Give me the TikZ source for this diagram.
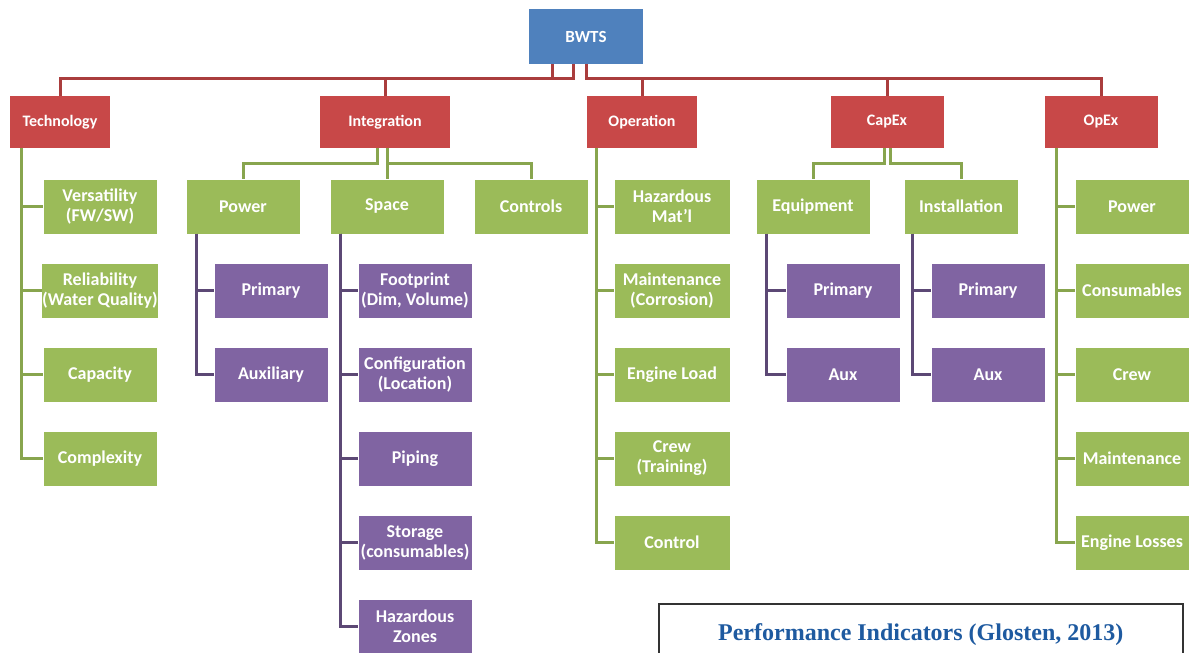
\documentclass[tikz,border=0pt]{standalone}
\usepackage{fontspec}
\setmainfont{Carlito}
\newfontfamily\capfont{Liberation Serif}
\usepackage{xcolor}
\usepackage{tikz}
\usetikzlibrary{positioning,calc}
\definecolor{bwtsblue}{RGB}{79,129,189}
\definecolor{catred}{RGB}{200,72,72}
\definecolor{subgreen}{RGB}{155,187,89}
\definecolor{leafpurple}{RGB}{128,100,162}
\definecolor{capblue}{RGB}{30,90,160}

\begin{document}
\begin{tikzpicture}[
  x=1pt, y=-1pt,
  every node/.style={inner xsep=0pt, inner ysep=2pt, text=white, align=center},
  topbox/.style={fill=bwtsblue, minimum width=114, minimum height=55, font=\bfseries\fontsize{17}{20}\selectfont},
  redbox/.style={fill=catred, minimum height=52, font=\bfseries\fontsize{16}{19}\selectfont},
  greenbox/.style={fill=subgreen, minimum width=113, minimum height=54, font=\bfseries\fontsize{18}{20}\selectfont},
  purplebox/.style={fill=leafpurple, minimum width=113, minimum height=54, font=\bfseries\fontsize{18}{20}\selectfont},
  redline/.style={line width=3pt, color=catred!85!black},
  greenline/.style={line width=3pt, color=subgreen!88!black},
  purpleline/.style={line width=3pt, color=leafpurple!72!black}
]
  \useasboundingbox (0,0) rectangle (1189,653);

  % top
  \node[topbox] (bwts) at (586,36.5) {BWTS};

  % categories
  \node[redbox, minimum width=100] (tech) at (60,122) {Technology};
  \node[redbox, minimum width=130] (integ) at (385,122) {Integration};
  \node[redbox, minimum width=110] (oper) at (642,122) {Operation};
  \node[redbox, minimum width=113] (capex) at (887,122) {CapEx};
  \node[redbox, minimum width=113] (opex) at (1101,122) {OpEx};

  \draw[redline] (bwts.south) ++(-34,0) -- ++(0,14) -| (tech.north);
  \draw[redline] (bwts.south) ++(-13,0) -- ++(0,14) -| (integ.north);
  \draw[redline] (bwts.south) ++(0,0) -- ++(0,14) -| (oper.north);
  \draw[redline] (bwts.south) ++(0,0) -- ++(0,14) -| (capex.north);
  \draw[redline] (bwts.south) ++(0,0) -- ++(0,14) -| (opex.north);

  % technology
  \node[greenbox] (vers) at (100,206.5) {Versatility\\(FW/SW)};
  \node[greenbox] (reli) at (100,290.5) {Reliability\\(Water Quality)};
  \node[greenbox] (capa) at (100,374.5) {Capacity};
  \node[greenbox] (cplx) at (100,458.5) {Complexity};
  \foreach \c in {vers,reli,capa,cplx}
    \draw[greenline] (tech.south west) ++(12,0) |- (\c.west);

  % integration
  \node[greenbox] (ipow) at (243,206.5) {Power};
  \node[greenbox] (spc) at (387,206.5) {Space};
  \node[greenbox] (ctrl) at (531,206.5) {Controls};
  \draw[greenline] (integ.south) ++(-8,0) -- ++(0,15) -| (ipow.north);
  \draw[greenline] (integ.south) ++(2,0) -- ++(0,15) -| (spc.north);
  \draw[greenline] (integ.south) ++(2,0) -- ++(0,15) -| (ctrl.north);

  \node[purplebox] (pprim) at (271,290.5) {Primary};
  \node[purplebox] (paux) at (271,374.5) {Auxiliary};
  \foreach \c in {pprim,paux}
    \draw[purpleline] (ipow.south west) ++(10,0) |- (\c.west);

  \node[purplebox] (foot) at (415,290.5) {Footprint\\(Dim, Volume)};
  \node[purplebox] (conf) at (415,374.5) {Configuration\\(Location)};
  \node[purplebox] (pipe) at (415,458.5) {Piping};
  \node[purplebox] (stor) at (415,542.5) {Storage\\(consumables)};
  \node[purplebox] (hzon) at (415,626.5) {Hazardous\\Zones};
  \foreach \c in {foot,conf,pipe,stor,hzon}
    \draw[purpleline] (spc.south west) ++(10,0) |- (\c.west);

  % operation
  \node[greenbox, minimum width=115] (hmat) at (672,206.5) {Hazardous\\Mat'l};
  \node[greenbox, minimum width=115] (maint) at (672,290.5) {Maintenance\\(Corrosion)};
  \node[greenbox, minimum width=115] (eload) at (672,374.5) {Engine Load};
  \node[greenbox, minimum width=115] (crewt) at (672,458.5) {Crew\\(Training)};
  \node[greenbox, minimum width=115] (octl) at (672,542.5) {Control};
  \foreach \c in {hmat,maint,eload,crewt,octl}
    \draw[greenline] (oper.south west) ++(10,0) |- (\c.west);

  % capex
  \node[greenbox] (equip) at (813,206.5) {Equipment};
  \node[greenbox] (inst) at (961,206.5) {Installation};
  \draw[greenline] (capex.south) ++(-3,0) -- ++(0,15) -| (equip.north);
  \draw[greenline] (capex.south) ++(3,0) -- ++(0,15) -| (inst.north);

  \node[purplebox] (eprim) at (843,290.5) {Primary};
  \node[purplebox] (eaux) at (843,374.5) {Aux};
  \foreach \c in {eprim,eaux}
    \draw[purpleline] (equip.south west) ++(10,0) |- (\c.west);

  \node[purplebox] (iprim) at (988,290.5) {Primary};
  \node[purplebox] (iaux) at (988,374.5) {Aux};
  \foreach \c in {iprim,iaux}
    \draw[purpleline] (inst.south west) ++(8,0) |- (\c.west);

  % opex
  \node[greenbox] (opow) at (1132,206.5) {Power};
  \node[greenbox] (cons) at (1132,290.5) {Consumables};
  \node[greenbox] (ocrew) at (1132,374.5) {Crew};
  \node[greenbox] (omaint) at (1132,458.5) {Maintenance};
  \node[greenbox] (eloss) at (1132,542.5) {Engine Losses};
  \foreach \c in {opow,cons,ocrew,omaint,eloss}
    \draw[greenline] (opex.south west) ++(12,0) |- (\c.west);

  % caption
  \node[draw=black!80, line width=1.5pt, minimum width=524, minimum height=70, anchor=north west,
        text=capblue, font=\capfont\bfseries\fontsize{24}{28}\selectfont, text depth=14] (cap) at (658,603)
        {Performance Indicators (Glosten, 2013)};
\end{tikzpicture}
\end{document}
